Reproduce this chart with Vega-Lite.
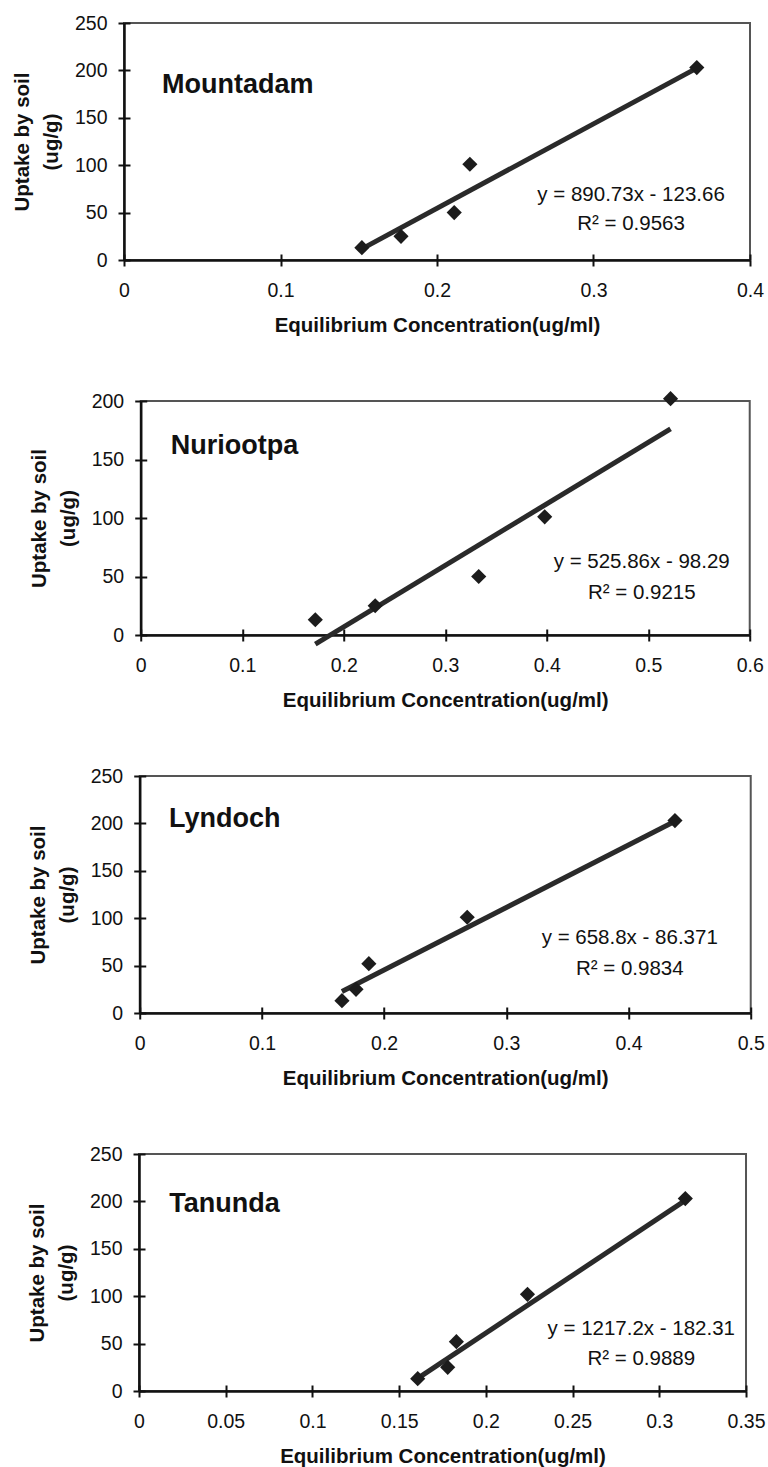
{
  "$schema": "https://vega.github.io/schema/vega-lite/v6.json",
  "padding": {"left": 11, "top": 12, "right": 0, "bottom": 2},
  "background": "white",
  "spacing": 53,
  "center": true,
  "datasets": {
    "pts": [
      {"site": "Mountadam", "c": 0.152, "u": 13},
      {"site": "Mountadam", "c": 0.177, "u": 25},
      {"site": "Mountadam", "c": 0.211, "u": 50},
      {"site": "Mountadam", "c": 0.221, "u": 101},
      {"site": "Mountadam", "c": 0.366, "u": 203},
      {"site": "Nuriootpa", "c": 0.172, "u": 13},
      {"site": "Nuriootpa", "c": 0.231, "u": 25},
      {"site": "Nuriootpa", "c": 0.333, "u": 50},
      {"site": "Nuriootpa", "c": 0.398, "u": 101},
      {"site": "Nuriootpa", "c": 0.522, "u": 202},
      {"site": "Lyndoch", "c": 0.1655, "u": 13},
      {"site": "Lyndoch", "c": 0.177, "u": 25},
      {"site": "Lyndoch", "c": 0.1875, "u": 52},
      {"site": "Lyndoch", "c": 0.268, "u": 101},
      {"site": "Lyndoch", "c": 0.438, "u": 203},
      {"site": "Tanunda", "c": 0.1607, "u": 13},
      {"site": "Tanunda", "c": 0.178, "u": 25},
      {"site": "Tanunda", "c": 0.183, "u": 52},
      {"site": "Tanunda", "c": 0.224, "u": 102},
      {"site": "Tanunda", "c": 0.315, "u": 203}
    ],
    "fit": [
      {"site": "Mountadam", "c": 0.152, "u": 11.7},
      {"site": "Mountadam", "c": 0.366, "u": 202.4},
      {"site": "Nuriootpa", "c": 0.172, "u": -7.8},
      {"site": "Nuriootpa", "c": 0.522, "u": 176.2},
      {"site": "Lyndoch", "c": 0.1655, "u": 22.7},
      {"site": "Lyndoch", "c": 0.438, "u": 202.2},
      {"site": "Tanunda", "c": 0.1607, "u": 13.3},
      {"site": "Tanunda", "c": 0.315, "u": 201.1}
    ],
    "lbl": [
      {"site": "Mountadam", "kind": "name", "c": 0.0243, "u": 184.6, "t": "Mountadam"},
      {"site": "Mountadam", "kind": "eq", "c": 0.324, "u": 68.6, "t": "y = 890.73x - 123.66"},
      {"site": "Mountadam", "kind": "eq", "c": 0.324, "u": 38, "t": "R² = 0.9563"},
      {"site": "Nuriootpa", "kind": "name", "c": 0.0296, "u": 161.6, "t": "Nuriootpa"},
      {"site": "Nuriootpa", "kind": "eq", "c": 0.4936, "u": 62, "t": "y = 525.86x - 98.29"},
      {"site": "Nuriootpa", "kind": "eq", "c": 0.4936, "u": 36.3, "t": "R² = 0.9215"},
      {"site": "Lyndoch", "kind": "name", "c": 0.024, "u": 204.9, "t": "Lyndoch"},
      {"site": "Lyndoch", "kind": "eq", "c": 0.401, "u": 78.9, "t": "y = 658.8x - 86.371"},
      {"site": "Lyndoch", "kind": "eq", "c": 0.401, "u": 46.5, "t": "R² = 0.9834"},
      {"site": "Tanunda", "kind": "name", "c": 0.0175, "u": 197.2, "t": "Tanunda"},
      {"site": "Tanunda", "kind": "eq", "c": 0.2896, "u": 65.2, "t": "y = 1217.2x - 182.31"},
      {"site": "Tanunda", "kind": "eq", "c": 0.2896, "u": 33.5, "t": "R² = 0.9889"}
    ]
  },
  "config": {
    "font": "Liberation Sans",
    "view": {"stroke": "#555", "strokeWidth": 2},
    "axis": {
      "grid": false,
      "domainColor": "#111",
      "domainWidth": 2.5,
      "tickColor": "#111",
      "tickWidth": 2,
      "tickSize": 6,
      "labelFont": "Liberation Sans",
      "labelFontSize": 19.5,
      "labelColor": "#111",
      "titleFont": "Liberation Sans",
      "titleFontSize": 20.5,
      "titleFontWeight": "bold",
      "titleColor": "#111",
      "labelOverlap": false,
      "labelFlush": false
    },
    "axisX": {"labelPadding": 15, "titlePadding": 16, "format": "~g"},
    "axisY": {"labelPadding": 11, "titlePadding": 13, "titleLineHeight": 29}
  },
  "vconcat": [
    {
      "width": 626, "height": 237,
      "resolve": {"axis": {"x": "independent", "y": "independent"}},
      "layer": [
        {"data": {"name": "fit"}, "transform": [{"filter": "datum.site === 'Mountadam'"}],
         "mark": {"type": "line", "color": "#2a2a2a", "strokeWidth": 5, "clip": false},
         "encoding": {
           "x": {"field": "c", "type": "quantitative", "scale": {"domain": [0, 0.4], "nice": false, "zero": false}, "axis": {"orient": "bottom", "values": [0, 0.1, 0.2, 0.3, 0.4], "title": "Equilibrium Concentration(ug/ml)"}},
           "y": {"field": "u", "type": "quantitative", "scale": {"domain": [0, 250], "nice": false}, "axis": {"orient": "left", "values": [0, 50, 100, 150, 200, 250], "title": ["Uptake by soil", "(ug/g)"]}}
         }},
        {"data": {"name": "pts"}, "transform": [{"filter": "datum.site === 'Mountadam'"}],
         "mark": {"type": "point", "shape": "diamond", "filled": true, "size": 230, "color": "#1c1c1c", "opacity": 1},
         "encoding": {
           "x": {"field": "c", "type": "quantitative", "axis": {"orient": "bottom", "values": [0, 0.1, 0.2, 0.3, 0.4], "tickSize": -6, "labels": false, "domain": false, "title": null}},
           "y": {"field": "u", "type": "quantitative", "axis": {"orient": "left", "values": [0, 50, 100, 150, 200, 250], "tickSize": -6, "labels": false, "domain": false, "title": null}}}},
        {"data": {"name": "lbl"}, "transform": [{"filter": "datum.site === 'Mountadam' && datum.kind === 'name'"}],
         "mark": {"type": "text", "align": "left", "baseline": "middle", "fontSize": 27, "fontWeight": "bold", "color": "#111"},
         "encoding": {"x": {"field": "c", "type": "quantitative", "axis": null}, "y": {"field": "u", "type": "quantitative", "axis": {"orient": "right", "domain": false, "ticks": false, "labels": false, "title": " ", "titleFontSize": 10, "titleOpacity": 0, "titlePadding": 20}}, "text": {"field": "t"}}},
        {"data": {"name": "lbl"}, "transform": [{"filter": "datum.site === 'Mountadam' && datum.kind === 'eq'"}],
         "mark": {"type": "text", "align": "center", "baseline": "middle", "fontSize": 20.5, "color": "#111"},
         "encoding": {"x": {"field": "c", "type": "quantitative", "axis": null}, "y": {"field": "u", "type": "quantitative", "axis": null}, "text": {"field": "t"}}}
      ]
    },
    {
      "width": 609, "height": 234,
      "resolve": {"axis": {"x": "independent", "y": "independent"}},
      "layer": [
        {"data": {"name": "fit"}, "transform": [{"filter": "datum.site === 'Nuriootpa'"}],
         "mark": {"type": "line", "color": "#2a2a2a", "strokeWidth": 5, "clip": false},
         "encoding": {
           "x": {"field": "c", "type": "quantitative", "scale": {"domain": [0, 0.6], "nice": false, "zero": false}, "axis": {"orient": "bottom", "values": [0, 0.1, 0.2, 0.3, 0.4, 0.5, 0.6], "title": "Equilibrium Concentration(ug/ml)"}},
           "y": {"field": "u", "type": "quantitative", "scale": {"domain": [0, 200], "nice": false}, "axis": {"orient": "left", "values": [0, 50, 100, 150, 200], "title": ["Uptake by soil", "(ug/g)"]}}
         }},
        {"data": {"name": "pts"}, "transform": [{"filter": "datum.site === 'Nuriootpa'"}],
         "mark": {"type": "point", "shape": "diamond", "filled": true, "size": 230, "color": "#1c1c1c", "opacity": 1},
         "encoding": {
           "x": {"field": "c", "type": "quantitative", "axis": {"orient": "bottom", "values": [0, 0.1, 0.2, 0.3, 0.4, 0.5, 0.6], "tickSize": -6, "labels": false, "domain": false, "title": null}},
           "y": {"field": "u", "type": "quantitative", "axis": {"orient": "left", "values": [0, 50, 100, 150, 200], "tickSize": -6, "labels": false, "domain": false, "title": null}}}},
        {"data": {"name": "lbl"}, "transform": [{"filter": "datum.site === 'Nuriootpa' && datum.kind === 'name'"}],
         "mark": {"type": "text", "align": "left", "baseline": "middle", "fontSize": 27, "fontWeight": "bold", "color": "#111"},
         "encoding": {"x": {"field": "c", "type": "quantitative", "axis": null}, "y": {"field": "u", "type": "quantitative", "axis": null}, "text": {"field": "t"}}},
        {"data": {"name": "lbl"}, "transform": [{"filter": "datum.site === 'Nuriootpa' && datum.kind === 'eq'"}],
         "mark": {"type": "text", "align": "center", "baseline": "middle", "fontSize": 20.5, "color": "#111"},
         "encoding": {"x": {"field": "c", "type": "quantitative", "axis": null}, "y": {"field": "u", "type": "quantitative", "axis": null}, "text": {"field": "t"}}}
      ]
    },
    {
      "width": 611, "height": 237,
      "resolve": {"axis": {"x": "independent", "y": "independent"}},
      "layer": [
        {"data": {"name": "fit"}, "transform": [{"filter": "datum.site === 'Lyndoch'"}],
         "mark": {"type": "line", "color": "#2a2a2a", "strokeWidth": 5, "clip": false},
         "encoding": {
           "x": {"field": "c", "type": "quantitative", "scale": {"domain": [0, 0.5], "nice": false, "zero": false}, "axis": {"orient": "bottom", "values": [0, 0.1, 0.2, 0.3, 0.4, 0.5], "title": "Equilibrium Concentration(ug/ml)"}},
           "y": {"field": "u", "type": "quantitative", "scale": {"domain": [0, 250], "nice": false}, "axis": {"orient": "left", "values": [0, 50, 100, 150, 200, 250], "title": ["Uptake by soil", "(ug/g)"]}}
         }},
        {"data": {"name": "pts"}, "transform": [{"filter": "datum.site === 'Lyndoch'"}],
         "mark": {"type": "point", "shape": "diamond", "filled": true, "size": 230, "color": "#1c1c1c", "opacity": 1},
         "encoding": {
           "x": {"field": "c", "type": "quantitative", "axis": {"orient": "bottom", "values": [0, 0.1, 0.2, 0.3, 0.4, 0.5], "tickSize": -6, "labels": false, "domain": false, "title": null}},
           "y": {"field": "u", "type": "quantitative", "axis": {"orient": "left", "values": [0, 50, 100, 150, 200, 250], "tickSize": -6, "labels": false, "domain": false, "title": null}}}},
        {"data": {"name": "lbl"}, "transform": [{"filter": "datum.site === 'Lyndoch' && datum.kind === 'name'"}],
         "mark": {"type": "text", "align": "left", "baseline": "middle", "fontSize": 27, "fontWeight": "bold", "color": "#111"},
         "encoding": {"x": {"field": "c", "type": "quantitative", "axis": null}, "y": {"field": "u", "type": "quantitative", "axis": null}, "text": {"field": "t"}}},
        {"data": {"name": "lbl"}, "transform": [{"filter": "datum.site === 'Lyndoch' && datum.kind === 'eq'"}],
         "mark": {"type": "text", "align": "center", "baseline": "middle", "fontSize": 20.5, "color": "#111"},
         "encoding": {"x": {"field": "c", "type": "quantitative", "axis": null}, "y": {"field": "u", "type": "quantitative", "axis": null}, "text": {"field": "t"}}}
      ]
    },
    {
      "width": 607, "height": 237,
      "resolve": {"axis": {"x": "independent", "y": "independent"}},
      "layer": [
        {"data": {"name": "fit"}, "transform": [{"filter": "datum.site === 'Tanunda'"}],
         "mark": {"type": "line", "color": "#2a2a2a", "strokeWidth": 5, "clip": false},
         "encoding": {
           "x": {"field": "c", "type": "quantitative", "scale": {"domain": [0, 0.35], "nice": false, "zero": false}, "axis": {"orient": "bottom", "values": [0, 0.05, 0.1, 0.15, 0.2, 0.25, 0.3, 0.35], "title": "Equilibrium Concentration(ug/ml)"}},
           "y": {"field": "u", "type": "quantitative", "scale": {"domain": [0, 250], "nice": false}, "axis": {"orient": "left", "values": [0, 50, 100, 150, 200, 250], "title": ["Uptake by soil", "(ug/g)"]}}
         }},
        {"data": {"name": "pts"}, "transform": [{"filter": "datum.site === 'Tanunda'"}],
         "mark": {"type": "point", "shape": "diamond", "filled": true, "size": 230, "color": "#1c1c1c", "opacity": 1},
         "encoding": {
           "x": {"field": "c", "type": "quantitative", "axis": {"orient": "bottom", "values": [0, 0.05, 0.1, 0.15, 0.2, 0.25, 0.3, 0.35], "tickSize": -6, "labels": false, "domain": false, "title": null}},
           "y": {"field": "u", "type": "quantitative", "axis": {"orient": "left", "values": [0, 50, 100, 150, 200, 250], "tickSize": -6, "labels": false, "domain": false, "title": null}}}},
        {"data": {"name": "lbl"}, "transform": [{"filter": "datum.site === 'Tanunda' && datum.kind === 'name'"}],
         "mark": {"type": "text", "align": "left", "baseline": "middle", "fontSize": 27, "fontWeight": "bold", "color": "#111"},
         "encoding": {"x": {"field": "c", "type": "quantitative", "axis": null}, "y": {"field": "u", "type": "quantitative", "axis": null}, "text": {"field": "t"}}},
        {"data": {"name": "lbl"}, "transform": [{"filter": "datum.site === 'Tanunda' && datum.kind === 'eq'"}],
         "mark": {"type": "text", "align": "center", "baseline": "middle", "fontSize": 20.5, "color": "#111"},
         "encoding": {"x": {"field": "c", "type": "quantitative", "axis": null}, "y": {"field": "u", "type": "quantitative", "axis": null}, "text": {"field": "t"}}}
      ]
    }
  ]
}
